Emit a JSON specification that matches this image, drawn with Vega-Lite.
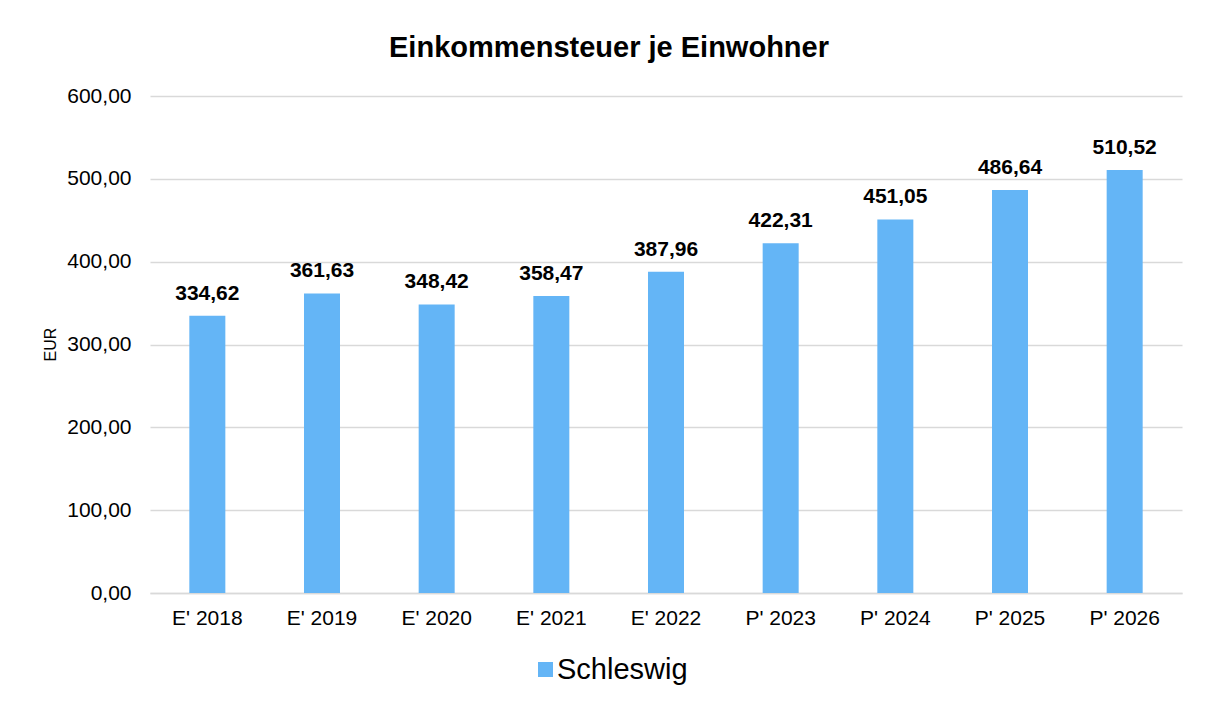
{
  "$schema": "https://vega.github.io/schema/vega-lite/v6.json",
  "autosize": {"type": "none"},
  "width": 1032,
  "height": 497,
  "padding": {"left": 150, "top": 96, "right": 27, "bottom": 109},
  "background": "white",
  "config": {
    "locale": {"number": {"decimal": ",", "thousands": ".", "grouping": [3], "currency": ["", " €"]}},
    "font": "Liberation Sans",
    "view": {"stroke": null}
  },
  "title": {
    "text": "Einkommensteuer je Einwohner",
    "fontSize": 29,
    "fontWeight": "bold",
    "color": "#000000",
    "font": "Liberation Sans",
    "anchor": "middle",
    "dx": -57,
    "offset": 22
  },
  "data": {
    "values": [
      {"jahr": "E' 2018", "wert": 334.62, "serie": "Schleswig"},
      {"jahr": "E' 2019", "wert": 361.63, "serie": "Schleswig"},
      {"jahr": "E' 2020", "wert": 348.42, "serie": "Schleswig"},
      {"jahr": "E' 2021", "wert": 358.47, "serie": "Schleswig"},
      {"jahr": "E' 2022", "wert": 387.96, "serie": "Schleswig"},
      {"jahr": "P' 2023", "wert": 422.31, "serie": "Schleswig"},
      {"jahr": "P' 2024", "wert": 451.05, "serie": "Schleswig"},
      {"jahr": "P' 2025", "wert": 486.64, "serie": "Schleswig"},
      {"jahr": "P' 2026", "wert": 510.52, "serie": "Schleswig"}
    ]
  },
  "encoding": {
    "x": {
      "field": "jahr",
      "type": "nominal",
      "sort": null,
      "scale": {"paddingInner": 0.686, "paddingOuter": 0.343},
      "axis": {
        "title": null,
        "labelAngle": 0,
        "labelFontSize": 21,
        "labelColor": "#000000",
        "labelPadding": 14,
        "ticks": false,
        "domain": true,
        "domainColor": "#d9d9d9",
        "domainWidth": 1.5
      }
    },
    "y": {
      "field": "wert",
      "type": "quantitative",
      "scale": {"domain": [0, 600], "nice": false},
      "axis": {
        "title": "EUR",
        "titleFontSize": 16,
        "titleFontWeight": "normal",
        "titleColor": "#000000",
        "titleX": -100,
        "titleY": 248,
        "titleAlign": "center",
        "titleBaseline": "middle",
        "values": [0, 100, 200, 300, 400, 500, 600],
        "format": ".2f",
        "labelFontSize": 21,
        "labelColor": "#000000",
        "labelPadding": 19,
        "ticks": false,
        "domain": false,
        "grid": true,
        "gridColor": "#d9d9d9",
        "gridWidth": 1.5
      }
    }
  },
  "layer": [
    {
      "mark": {"type": "bar"},
      "encoding": {
        "color": {
          "field": "serie",
          "type": "nominal",
          "scale": {"range": ["#64B5F6"]},
          "legend": {
            "title": null,
            "orient": "none",
            "legendX": 381,
            "legendY": 559,
            "symbolType": "square",
            "symbolSize": 225,
            "symbolStrokeWidth": 0,
            "labelFontSize": 29,
            "labelColor": "#000000",
            "labelOffset": -3
          }
        }
      }
    },
    {
      "mark": {"type": "text", "fontWeight": "bold", "fontSize": 21, "color": "#000000", "baseline": "alphabetic", "dy": -16},
      "encoding": {
        "text": {"field": "wert", "type": "quantitative", "format": ".2f"}
      }
    }
  ]
}
